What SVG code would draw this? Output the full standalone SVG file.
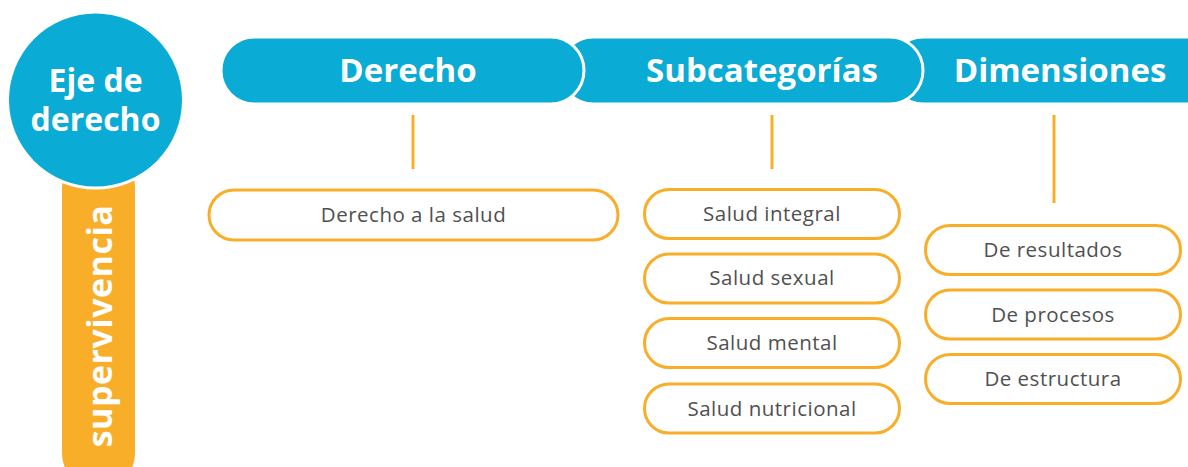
<svg xmlns="http://www.w3.org/2000/svg" width="1188" height="467" viewBox="0 0 1188 467">
<style>
.hdr{fill:#0AABD4;stroke:#fff;stroke-width:3}
.htxt{font-family:"Open Sans","Noto Sans",sans-serif;font-weight:700;font-size:33px;fill:#fff;text-anchor:middle}
.box{fill:#fff;stroke:#F9AE2A;stroke-width:3}
.btxt{font-family:"Open Sans","Noto Sans",sans-serif;font-size:20.5px;letter-spacing:0.5px;fill:#505050;text-anchor:middle;dominant-baseline:central}
.conn{stroke:#F9AE2A;stroke-width:3;fill:none}
</style>
<rect width="1188" height="467" fill="#fff"/>
<g id="eje">
<rect x="62" y="150" width="73" height="340" rx="36.5" fill="#F9AE2A"/>
<text x="98.5" y="326" transform="rotate(-90 98.5 326)" class="htxt" style="font-size:34px;letter-spacing:0.5px" dominant-baseline="central">supervivencia</text>
<circle cx="95.5" cy="100" r="88" fill="#0AABD4" stroke="#fff" stroke-width="3"/>
<text x="95.5" y="92" class="htxt" style="font-size:32px">Eje de</text>
<text x="95.5" y="131" class="htxt" style="font-size:32px">derecho</text>
</g>
<g id="dimensiones">
<rect x="890" y="37" width="380" height="67" rx="33.5" class="hdr"/>
<text x="1060" y="82" class="htxt">Dimensiones</text>
</g>
<g id="subcategorias">
<rect x="560" y="37" width="363" height="67" rx="33.5" class="hdr"/>
<text x="762" y="82" class="htxt">Subcategorías</text>
</g>
<g id="derecho">
<rect x="221" y="37" width="363" height="67" rx="33.5" class="hdr"/>
<text x="408" y="82" class="htxt">Derecho</text>
</g>
<g id="connectors">
<line x1="413" y1="115" x2="413" y2="169" class="conn"/>
<line x1="772" y1="115" x2="772" y2="169" class="conn"/>
<line x1="1054" y1="115" x2="1054" y2="203" class="conn"/>
</g>
<g id="derecho-salud">
<rect x="209" y="190" width="409" height="50" rx="25" class="box"/>
<text x="413.5" y="214" class="btxt">Derecho a la salud</text>
</g>
<g id="salud-integral">
<rect x="644.5" y="189.5" width="255" height="49" rx="24.5" class="box"/>
<text x="772" y="213" class="btxt">Salud integral</text>
</g>
<g id="salud-sexual">
<rect x="644.5" y="254" width="255" height="49" rx="24.5" class="box"/>
<text x="772" y="277" class="btxt">Salud sexual</text>
</g>
<g id="salud-mental">
<rect x="644.5" y="318.5" width="255" height="49" rx="24.5" class="box"/>
<text x="772" y="342" class="btxt">Salud mental</text>
</g>
<g id="salud-nutricional">
<rect x="644.5" y="384" width="255" height="49" rx="24.5" class="box"/>
<text x="772" y="408" class="btxt">Salud nutricional</text>
</g>
<g id="de-resultados">
<rect x="925.5" y="225.5" width="255" height="49" rx="24.5" class="box"/>
<text x="1053" y="249" class="btxt">De resultados</text>
</g>
<g id="de-procesos">
<rect x="925.5" y="290" width="255" height="49" rx="24.5" class="box"/>
<text x="1053" y="313.5" class="btxt">De procesos</text>
</g>
<g id="de-estructura">
<rect x="925.5" y="354.5" width="255" height="49" rx="24.5" class="box"/>
<text x="1053" y="378" class="btxt">De estructura</text>
</g>
</svg>
